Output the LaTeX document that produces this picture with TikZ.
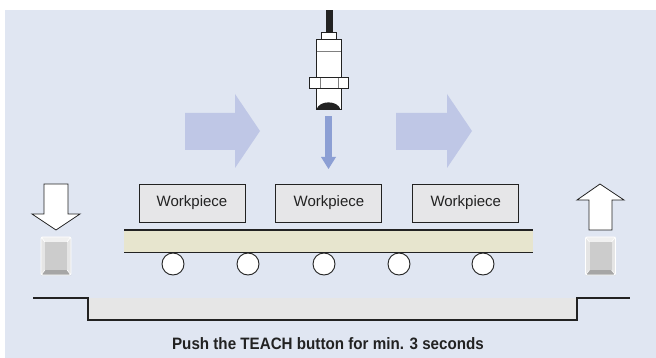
\documentclass[tikz,border=0pt]{standalone}
\usepackage{fontspec}
\setmainfont{Liberation Sans}
\newfontfamily\narrowsans[FakeStretch=0.92]{Liberation Sans}
\usetikzlibrary{positioning}
\definecolor{bgblue}{RGB}{224,230,242}
\definecolor{flowblue}{RGB}{191,199,230}
\definecolor{probeblue}{RGB}{140,159,212}
\definecolor{piecegray}{RGB}{230,230,232}
\definecolor{beltfill}{RGB}{231,229,206}
\definecolor{stepgray}{RGB}{230,230,230}
\definecolor{inkblack}{RGB}{34,34,34}
\tikzset{
	piece/.style={draw=inkblack, fill=piecegray, line width=0.9pt,
		minimum width=106pt, minimum height=38pt, inner sep=0pt,
		font=\fontsize{15}{15}\selectfont, text=inkblack},
	roller/.style={circle, draw=inkblack, fill=white, line width=0.9pt,
		minimum size=22pt, inner sep=0pt},
	hollow/.style={draw=inkblack, fill=white, line width=0.8pt},
	flow/.style={fill=flowblue},
	caption/.style={font=\narrowsans\bfseries\fontsize{16.5}{16.5}\selectfont, text=inkblack},
	button/.pic={
		\fill[black!10, rounded corners=1.5pt] (-15,-19) rectangle (15,19);
		\fill[black!6] (-15,-19) -- (15,-19) -- (11,-14) -- (-11,-14) -- cycle;
		\fill[black!35] (-15,19) -- (15,19) -- (11,14) -- (-11,14) -- cycle;
		\fill[black!20] (-11,-14) rectangle (11,14);
		\draw[white, line width=0.6pt] (-15,-19) -- (-11,-14) (15,-19) -- (11,-14)
			(-15,19) -- (-11,14) (15,19) -- (11,14);
		\draw[white, line width=0.8pt, rounded corners=1.5pt] (-15,-19) rectangle (15,19);
	},
}

\begin{document}
\begin{tikzpicture}[x=1pt, y=-1pt]
	\useasboundingbox (0,0) rectangle (656,358);
	\fill[bgblue] (5,10) rectangle (656,358);

	% Sensor head
	\fill[inkblack] (326,10) rectangle (333,33);
	\draw[inkblack, fill=white, line width=1pt] (321,33) rectangle (336,40);
	\draw[inkblack, fill=white, line width=1pt] (316,40) rectangle (341,110);
	\draw[black!50, line width=0.8pt] (316.5,51) -- (340.5,51);
	\draw[inkblack, fill=white, line width=1pt] (309,78) rectangle (348,89);
	\draw[black!50, line width=0.8pt] (320,78.5) -- (320,88.5) (338,78.5) -- (338,88.5);
	\fill[inkblack] (316.5,109.5) .. controls (319,100) and (338,100) .. (340.5,109.5) -- cycle;

	% Detection beam
	\fill[probeblue] (325,116) rectangle (332,157);
	\fill[probeblue] (321,157) -- (336,157) -- (328.5,169) -- cycle;

	% Flow direction
	\fill[flow] (185,113) -- (235,113) -- (235,94) -- (260,131) -- (235,168) -- (235,150) -- (185,150) -- cycle;
	\fill[flow] (396,113) -- (447,113) -- (447,94) -- (472,131) -- (447,168) -- (447,150) -- (396,150) -- cycle;

	% Workpieces on the belt
	\node[piece] (wp1) at (192,203) {Workpiece};
	\node[piece, right=30pt of wp1] (wp2) {Workpiece};
	\node[piece, right=30pt of wp2] (wp3) {Workpiece};

	\fill[beltfill] (124,230) rectangle (533,252);
	\draw[inkblack, line width=2.5pt] (124,230) -- (533,230);
	\draw[inkblack, line width=0.8pt] (124,252) -- (533,252);
	\foreach \x [count=\i] in {173,248,324,399,483}
		\node[roller] (r\i) at (\x,264) {};

	% TEACH button: press and release
	\draw[hollow] (44,184) -- (68,184) -- (68,214) -- (80,214) -- (56,230) -- (32,214) -- (44,214) -- cycle;
	\pic at (56,256) {button};
	\draw[hollow] (589,230) -- (612,230) -- (612,200) -- (624,200) -- (600,184) -- (577,200) -- (589,200) -- cycle;
	\pic at (600.5,256) {button};

	% Timing
	\fill[stepgray] (88,298) rectangle (577,320);
	\draw[inkblack, line width=2.5pt] (33,298) -- (88,298) -- (88,320) -- (577,320) -- (577,298) -- (630,298);
	\node[caption] (hint) at (328,344) {Push the TEACH button for min. 3 seconds};
\end{tikzpicture}
\end{document}
